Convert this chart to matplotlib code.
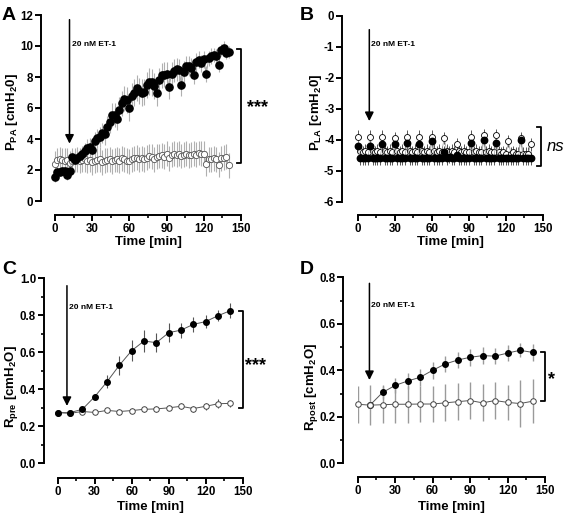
import matplotlib
matplotlib.use("Agg")
import matplotlib.pyplot as plt
import numpy as np
from matplotlib.ticker import MultipleLocator, FormatStrFormatter

plt.rcParams['font.family'] = ['Liberation Sans', 'DejaVu Sans']
plt.rcParams['font.weight'] = 'bold'
plt.rcParams['axes.unicode_minus'] = False
plt.rcParams['mathtext.fontset'] = 'custom'
plt.rcParams['mathtext.rm'] = 'Liberation Sans:bold'
plt.rcParams['mathtext.it'] = 'Liberation Sans:bold'
plt.rcParams['mathtext.bf'] = 'Liberation Sans:bold'
plt.rcParams['mathtext.default'] = 'rm'

# ---------------- Panel A data (P_PA) ----------------
tA = list(range(0, 141, 2))
a_et1 = [1.55, 1.9, 1.9, 1.95, 1.95, 1.65, 1.95, 2.85, 2.65, 2.75, 2.9, 3.05, 3.25, 3.45, 3.5, 3.3,
         3.85, 4.05, 4.15, 4.4, 4.3, 4.8, 5.1, 5.55, 5.55, 5.3, 5.9, 6.3, 6.6, 6.5, 6.0, 6.75,
         7.0, 7.3, 7.1, 7.0, 7.05, 7.5, 7.7, 7.65, 7.4, 6.95, 7.8, 8.1, 8.15, 8.2, 7.35, 8.2,
         8.4, 8.5, 8.45, 7.5, 8.35, 8.7, 8.7, 8.6, 8.15, 8.95, 9.1, 8.9, 9.15, 8.2, 9.2, 9.35,
         9.45, 9.35, 8.8, 9.75, 9.9, 9.55, 9.6]
a_et1_err = [0.3, 0.3, 0.3, 0.3, 0.3, 0.3, 0.35, 0.4, 0.4, 0.45, 0.45, 0.5, 0.5, 0.55, 0.55, 0.6,
             0.6, 0.6, 0.65, 0.65, 0.7, 0.7, 0.7, 0.75, 0.75, 0.75, 0.8, 0.8, 0.8, 0.85, 0.85, 0.85,
             0.85, 0.85, 0.85, 0.85, 0.85, 0.85, 0.85, 0.85, 0.85, 0.85, 0.8, 0.8, 0.8, 0.8, 0.8, 0.75,
             0.75, 0.75, 0.7, 0.7, 0.7, 0.65, 0.65, 0.6, 0.6, 0.6, 0.55, 0.55, 0.55, 0.5, 0.5, 0.5,
             0.45, 0.45, 0.45, 0.4, 0.4, 0.4, 0.4]
a_ctrl = [2.4, 2.65, 2.7, 2.65, 2.6, 2.65, 2.45, 2.6, 2.65, 2.7, 2.6, 2.65, 2.7, 2.6, 2.65, 2.5,
          2.6, 2.65, 2.7, 2.5, 2.6, 2.65, 2.7, 2.55, 2.65, 2.7, 2.6, 2.75, 2.7, 2.6, 2.55, 2.7,
          2.75, 2.8, 2.7, 2.75, 2.7, 2.8, 2.9, 2.85, 2.7, 2.85, 2.9, 2.95, 2.85, 3.05, 2.75, 3.0,
          3.05, 3.0, 3.05, 2.9, 3.0, 3.05, 2.95, 3.0, 3.05, 3.0, 3.1, 3.05, 3.05, 2.4, 2.7, 2.7,
          2.75, 2.7, 2.35, 2.75, 2.8, 2.85, 2.3]
a_ctrl_err = [0.8] * 71

# ---------------- Panel B data (P_LA) ----------------
tB = list(range(0, 141, 2))
b_et1 = [-4.2, -4.6, -4.6, -4.6, -4.6, -4.2, -4.6, -4.6, -4.6, -4.6, -4.15, -4.6, -4.6, -4.6, -4.6, -4.15,
         -4.6, -4.6, -4.6, -4.6, -4.1, -4.6, -4.6, -4.6, -4.6, -4.15, -4.6, -4.6, -4.6, -4.6, -4.05, -4.6,
         -4.6, -4.6, -4.6, -4.4, -4.6, -4.55, -4.6, -4.6, -4.5, -4.6, -4.6, -4.6, -4.6, -4.6, -4.1, -4.6,
         -4.6, -4.6, -4.6, -4.0, -4.6, -4.6, -4.6, -4.6, -4.1, -4.6, -4.6, -4.6, -4.6, -4.6, -4.6, -4.6,
         -4.6, -4.6, -4.0, -4.6, -4.6, -4.6, -4.6]
b_ctrl = [-3.9, -4.35, -4.4, -4.35, -4.4, -3.9, -4.35, -4.4, -4.35, -4.4, -3.9, -4.35, -4.4, -4.35, -4.4, -3.95,
          -4.35, -4.4, -4.35, -4.4, -3.9, -4.35, -4.4, -4.35, -4.4, -3.9, -4.35, -4.4, -4.35, -4.4, -3.9, -4.35,
          -4.4, -4.35, -4.4, -3.95, -4.35, -4.4, -4.35, -4.4, -4.15, -4.35, -4.4, -4.35, -4.4, -4.4, -3.9, -4.4,
          -4.35, -4.4, -4.4, -3.85, -4.4, -4.35, -4.4, -4.4, -3.85, -4.4, -4.45, -4.4, -4.45, -4.05, -4.45, -4.4,
          -4.45, -4.45, -3.95, -4.45, -4.45, -4.45, -4.15]
b_err = [0.2] * 71

# ---------------- Panel C data (R_pre) ----------------
tC = [0, 10, 20, 30, 40, 50, 60, 70, 80, 90, 100, 110, 120, 130, 140]
c_et1 = [0.274, 0.274, 0.292, 0.36, 0.441, 0.53, 0.609, 0.661, 0.652, 0.706, 0.72, 0.751, 0.766, 0.798, 0.825]
c_et1_err = [0.008, 0.008, 0.01, 0.015, 0.035, 0.05, 0.055, 0.06, 0.05, 0.05, 0.04, 0.04, 0.035, 0.03, 0.04]
c_ctrl = [0.274, 0.27, 0.28, 0.275, 0.286, 0.28, 0.285, 0.292, 0.294, 0.3, 0.308, 0.296, 0.308, 0.322, 0.324]
c_ctrl_err = [0.01, 0.01, 0.01, 0.01, 0.01, 0.012, 0.012, 0.012, 0.014, 0.014, 0.016, 0.016, 0.018, 0.025, 0.02]

# ---------------- Panel D data (R_post) ----------------
tD_et1 = [10, 20, 30, 40, 50, 60, 70, 80, 90, 100, 110, 120, 130, 140]
d_et1 = [0.251, 0.305, 0.335, 0.354, 0.37, 0.40, 0.427, 0.444, 0.456, 0.463, 0.461, 0.474, 0.486, 0.477]
d_et1_err = [0.0, 0.03, 0.033, 0.036, 0.036, 0.036, 0.036, 0.036, 0.036, 0.036, 0.036, 0.036, 0.03, 0.036]
tD = [0, 10, 20, 30, 40, 50, 60, 70, 80, 90, 100, 110, 120, 130, 140]
d_ctrl = [0.254, 0.25, 0.252, 0.254, 0.254, 0.255, 0.255, 0.26, 0.265, 0.27, 0.26, 0.27, 0.262, 0.257, 0.267]
d_ctrl_err = [0.079, 0.085, 0.079, 0.079, 0.079, 0.079, 0.079, 0.079, 0.079, 0.079, 0.079, 0.079, 0.075, 0.10, 0.095]

W, H = 567, 515
fig = plt.figure(figsize=(W / 100, H / 100), dpi=100)


def ftext(x, y, s, **kw):
    fig.text(x / W, 1 - y / H, s, **kw)


def add_ax(x0, x1, ytop, ybot, left_off, bot_off):
    ax = fig.add_axes([x0 / W, (H - ybot) / H, (x1 - x0) / W, (ybot - ytop) / H])
    for s in ['top', 'right']:
        ax.spines[s].set_visible(False)
    ax.spines['left'].set_position(('outward', left_off * 0.72))
    ax.spines['bottom'].set_position(('outward', bot_off * 0.72))
    for s in ['left', 'bottom']:
        ax.spines[s].set_linewidth(1.4)
    ax.tick_params(which='major', length=4, width=1.4, labelsize=8.3, pad=1.5)
    ax.tick_params(which='minor', length=2.5, width=1.2)
    ax.set_xlim(0, 150)
    ax.xaxis.set_major_locator(MultipleLocator(30))
    ax.xaxis.set_minor_locator(MultipleLocator(15))
    for lab in ax.get_xticklabels() + ax.get_yticklabels():
        lab.set_fontweight('bold')
    return ax


def arrow(ax, t, y0, y1, tx, ty):
    ax.annotate('', xy=(t, y1), xytext=(t, y0),
                arrowprops=dict(arrowstyle='-|>', color='black', lw=1.1, mutation_scale=13,
                                shrinkA=0, shrinkB=0), annotation_clip=False)
    ax.text(tx, ty, '20 nM ET-1', fontsize=6, fontweight='bold', va='center', ha='left')


def bracket(ax, x, y0, y1, dx):
    ax.plot([x - dx, x, x, x - dx], [y0, y0, y1, y1], color='black', lw=1.3, clip_on=False)


grey = '#9a9a9a'
lgrey = '#b0b0b0'
lab_kw = dict(fontsize=9.5, fontweight='bold', ha='center', va='center')

# ---------------- A ----------------
axA = add_ax(55, 241, 15, 201, 14, 14)
axA.set_ylim(0, 12)
axA.yaxis.set_major_locator(MultipleLocator(2))
axA.errorbar(tA, a_ctrl, yerr=a_ctrl_err, fmt='none', ecolor=lgrey, elinewidth=0.8, capsize=0, clip_on=False)
axA.errorbar(tA, a_et1, yerr=a_et1_err, fmt='none', ecolor=lgrey, elinewidth=0.8, capsize=0, clip_on=False)
axA.plot(tA, a_ctrl, '-', color=grey, lw=0.6, marker='o', ms=4.5, mfc='white', mec='#555555', mew=0.6, clip_on=False)
axA.plot(tA, a_et1, '-', color=grey, lw=0.6, marker='o', ms=5.2, mfc='black', mec='black', clip_on=False)
arrow(axA, 11.7, 11.7, 3.7, 13.5, 10.1)
bracket(axA, 150, 9.8, 2.45, 3)
axA.text(155, 6.0, '***', fontsize=13, fontweight='bold', va='center', ha='left')
ftext(12, 112, 'P$_{PA}$ [cmH$_2$0]', rotation=90, **lab_kw)
ftext(148, 242, 'Time [min]', **lab_kw)
ftext(9, 15, 'A', fontsize=14, fontweight='bold', ha='center', va='center')

# ---------------- B ----------------
axB = add_ax(357.7, 543, 15.7, 201.7, 15.7, 13.3)
axB.set_ylim(-6, 0)
axB.yaxis.set_major_locator(MultipleLocator(1))
axB.errorbar(tB, b_ctrl, yerr=b_err, fmt='none', ecolor='#555555', elinewidth=0.7, capsize=0)
axB.errorbar(tB, b_et1, yerr=b_err, fmt='none', ecolor='#555555', elinewidth=0.7, capsize=0)
axB.plot(tB, b_ctrl, '-', color=grey, lw=0.5, marker='o', ms=4.3, mfc='white', mec='black', mew=0.6, clip_on=False)
axB.plot(tB, b_et1, '-', color=grey, lw=0.5, marker='o', ms=4.6, mfc='black', mec='black', clip_on=False)
arrow(axB, 9.4, -0.45, -3.4, 10.5, -0.93)
bracket(axB, 148, -3.6, -4.84, 3)
axB.text(153, -4.22, 'ns', fontsize=12, fontstyle='italic', fontweight='normal', va='center', ha='left')
ftext(316, 112, 'P$_{LA}$ [cmH$_2$0]', rotation=90, **lab_kw)
ftext(450, 242, 'Time [min]', **lab_kw)
ftext(307, 15, 'B', fontsize=14, fontweight='bold', ha='center', va='center')

# ---------------- C ----------------
axC = add_ax(57.7, 242.7, 278.3, 463.3, 14, 15)
axC.set_ylim(0, 1.0)
axC.yaxis.set_major_locator(MultipleLocator(0.2))
axC.yaxis.set_minor_locator(MultipleLocator(0.1))
axC.yaxis.set_major_formatter(FormatStrFormatter('%.1f'))
axC.errorbar(tC, c_ctrl, yerr=c_ctrl_err, fmt='none', ecolor='#555555', elinewidth=0.8, capsize=0)
axC.errorbar(tC, c_et1, yerr=c_et1_err, fmt='none', ecolor='#555555', elinewidth=0.8, capsize=0)
axC.plot(tC, c_ctrl, '-', color='#555555', lw=0.7, marker='o', ms=4.0, mfc='white', mec='#444444', mew=0.7, clip_on=False)
axC.plot(tC, c_et1, '-', color='#555555', lw=0.7, marker='o', ms=4.0, mfc='black', mec='black', clip_on=False)
arrow(axC, 7.5, 0.96, 0.31, 9.0, 0.84)
bracket(axC, 150, 0.825, 0.30, 3)
axC.text(151.5, 0.53, '***', fontsize=13, fontweight='bold', va='center', ha='left')
ftext(11, 387, 'R$_{pre}$ [cmH$_2$O]', rotation=90, **lab_kw)
ftext(150, 507, 'Time [min]', **lab_kw)
ftext(9, 270, 'C', fontsize=14, fontweight='bold', ha='center', va='center')

# ---------------- D ----------------
axD = add_ax(357.7, 545, 277.3, 463.3, 14.4, 14)
axD.set_ylim(0, 0.8)
axD.yaxis.set_major_locator(MultipleLocator(0.2))
axD.yaxis.set_minor_locator(MultipleLocator(0.1))
axD.yaxis.set_major_formatter(FormatStrFormatter('%.1f'))
axD.errorbar(tD, d_ctrl, yerr=d_ctrl_err, fmt='none', ecolor=grey, elinewidth=1.0, capsize=0)
axD.errorbar(tD_et1, d_et1, yerr=d_et1_err, fmt='none', ecolor=grey, elinewidth=1.0, capsize=0)
axD.plot(tD_et1, d_et1, '-', color='#555555', lw=0.7, marker='o', ms=4.0, mfc='black', mec='black', clip_on=False)
axD.plot(tD, d_ctrl, '-', color='#555555', lw=0.7, marker='o', ms=4.0, mfc='white', mec='#444444', mew=0.7, clip_on=False)
arrow(axD, 9.4, 0.774, 0.358, 10.7, 0.678)
bracket(axD, 150, 0.477, 0.267, 3)
axD.text(152.5, 0.36, '*', fontsize=13, fontweight='bold', va='center', ha='left')
ftext(311, 387, 'R$_{post}$ [cmH$_2$O]', rotation=90, **lab_kw)
ftext(451, 507, 'Time [min]', **lab_kw)
ftext(307, 270, 'D', fontsize=14, fontweight='bold', ha='center', va='center')

fig.savefig('out.png', dpi=100)
